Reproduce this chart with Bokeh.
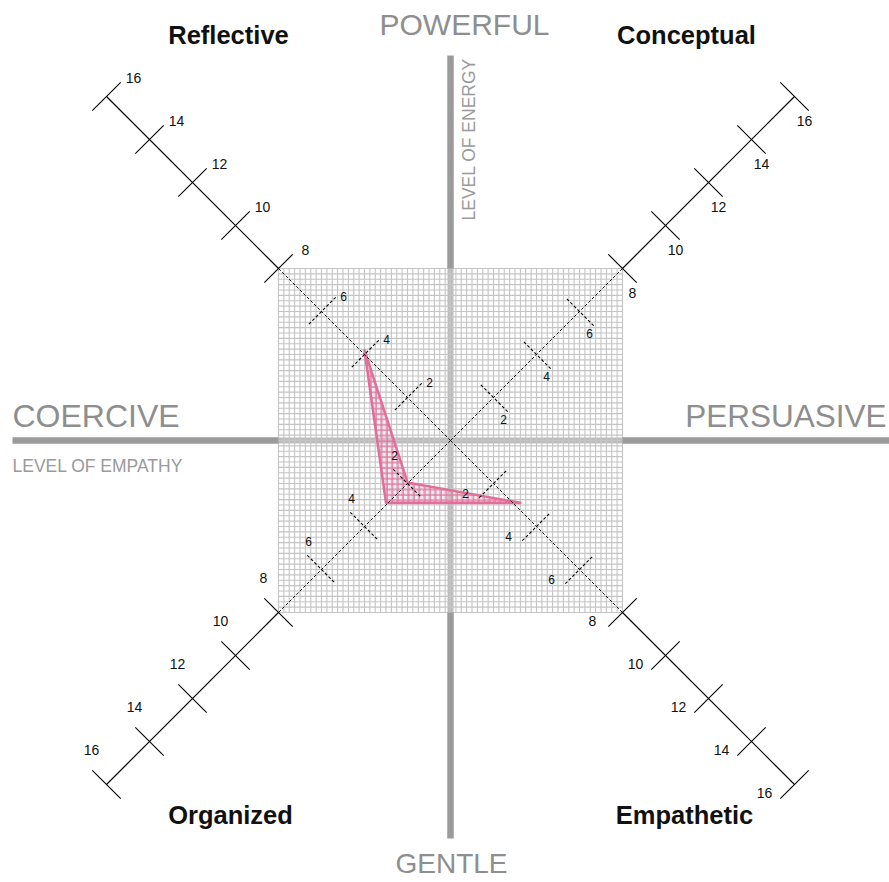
import numpy as np
from bokeh.plotting import figure
from bokeh.models import ColumnDataSource
from bokeh.core.properties import value
from bokeh.embed import file_html
from bokeh.resources import INLINE

# ---------------- data ----------------
axis_names = ["Reflective", "Conceptual", "Organized", "Empathetic"]
axis_sx = [-1, 1, -1, 1]          # diagonal direction of each axis
axis_sy = [1, 1, -1, -1]
inner_ticks = [2, 4, 6]
outer_ticks = [8, 10, 12, 14, 16]
inner_labels = ["2", "4", "6"]
outer_labels = ["8", "10", "12", "14", "16"]
box_half = 8
grid_step = 0.25
axis_max = 16

# profile polygon (units)
profile_x = [-4.0, -2.0, 3.25, -3.0]
profile_y = [4.2, -1.95, -2.9, -2.9]

pole_labels = ["POWERFUL", "GENTLE", "COERCIVE", "PERSUASIVE"]
sub_labels = ["LEVEL OF EMPATHY", "LEVEL OF ENERGY"]

# ---------------- layout ----------------
W, H = 889, 882
PX = 21.5                 # pixels per unit
cx, cy = 450, 440         # centre in figure pixels
x0, x1 = -cx / PX, (W - cx) / PX
y0, y1 = -(H - cy) / PX, cy / PX

p = figure(width=W, height=H, x_range=(x0, x1), y_range=(y0, y1),
           output_backend="svg", toolbar_location=None,
           x_axis_location=None, y_axis_location=None,
           min_border=0, min_border_left=0, min_border_right=0,
           min_border_top=0, min_border_bottom=0,
           outline_line_color=None, background_fill_color="white",
           border_fill_color="white")
p.xgrid.visible = False
p.ygrid.visible = False

def u(px):
    return px / PX

# centre band inside the box
p.segment(x0=[-box_half, 0], y0=[0, -box_half], x1=[box_half, 0], y1=[0, box_half],
          line_color="#bdbdbd", line_width=6)

# fine grid
g = np.arange(-box_half, box_half + 1e-9, grid_step)
p.segment(x0=g, y0=[-box_half] * len(g), x1=g, y1=[box_half] * len(g),
          line_color="#c4c4c4", line_width=1.1)
p.segment(x0=[-box_half] * len(g), y0=g, x1=[box_half] * len(g), y1=g,
          line_color="#c4c4c4", line_width=1.1)

# thick grey cross outside the box
v_top, v_bot = u(440 - 55), -u(838 - 440)
h_left, h_right = -u(450 - 12), u(889 - 450)
p.segment(x0=[0, 0, h_left, box_half], y0=[box_half, v_bot, 0, 0],
          x1=[0, 0, -box_half, h_right], y1=[v_top, -box_half, 0, 0],
          line_color="#9b9b9b", line_width=6.5)

# profile polygon
p.patch(profile_x, profile_y, fill_color="#f3b6cb", fill_alpha=0.25,
        hatch_pattern="+", hatch_color="#e3789f", hatch_scale=5.4,
        hatch_weight=1.3, line_color="#e0709a", line_width=2.6,
        line_join="round")

# diagonal axes
tick_half = 0.66
for sx, sy in zip(axis_sx, axis_sy):
    p.segment(x0=[0], y0=[0], x1=[sx * box_half], y1=[sy * box_half],
              line_color="black", line_width=1, line_dash="3 2")
    p.segment(x0=[sx * box_half], y0=[sy * box_half], x1=[sx * axis_max],
              y1=[sy * axis_max], line_color="black", line_width=1.2)
    for ticks, dash in ((inner_ticks, "3 2"), (outer_ticks, "solid")):
        tx = np.array([sx * t for t in ticks], dtype=float)
        ty = np.array([sy * t for t in ticks], dtype=float)
        px_, py_ = -sy * tick_half, sx * tick_half
        p.segment(x0=tx - px_, y0=ty - py_, x1=tx + px_, y1=ty + py_,
                  line_color="black", line_width=1.1, line_dash=dash)

# tick label offsets per axis (pixels, screen y downward)
outer_off = [(27, -19), (10, 24), (-15, -35), (-30, 8)]
inner_off = [(22, -15), (10, 22), (-13, -28), (-28, 10)]
lx, ly, lt, ls = [], [], [], []
for (sx, sy), oo, io in zip(zip(axis_sx, axis_sy), outer_off, inner_off):
    for t, lab in zip(outer_ticks, outer_labels):
        lx.append(sx * t + u(oo[0])); ly.append(sy * t - u(oo[1])); lt.append(lab); ls.append("14px")
    for t, lab in zip(inner_ticks, inner_labels):
        lx.append(sx * t + u(io[0])); ly.append(sy * t - u(io[1])); lt.append(lab); ls.append("12px")
src = ColumnDataSource(dict(x=lx, y=ly, text=lt, size=ls))
p.text(x="x", y="y", text="text", source=src, text_font=value("Liberation Sans"),
       text_font_size="size", text_color="#111111", text_align="center",
       text_baseline="middle")

# pole labels
grey = "#8e8e8e"
p.text(x=[u(464 - 450)], y=[u(440 - 24)], text=[pole_labels[0]],
       text_font=value("Liberation Sans"), text_font_size="30px",
       text_color=grey, text_align="center", text_baseline="middle")
p.text(x=[u(451 - 450)], y=[-u(863 - 440)], text=[pole_labels[1]],
       text_font=value("Liberation Sans"), text_font_size="28px",
       text_color=grey, text_align="center", text_baseline="middle")
p.text(x=[-u(450 - 12)], y=[u(440 - 415)], text=[pole_labels[2]],
       text_font=value("Liberation Sans"), text_font_size="32px",
       text_color=grey, text_align="left", text_baseline="middle")
p.text(x=[u(886 - 450)], y=[u(440 - 415)], text=[pole_labels[3]],
       text_font=value("Liberation Sans"), text_font_size="31.5px",
       text_color=grey, text_align="right", text_baseline="middle")

# sub labels
p.text(x=[-u(450 - 12)], y=[-u(465 - 440)], text=[sub_labels[0]],
       text_font=value("Liberation Sans"), text_font_size="17.5px",
       text_color="#9a9a9a", text_align="left", text_baseline="middle")
p.text(x=[u(468 - 450)], y=[u(440 - 220)], text=[sub_labels[1]],
       text_font=value("Liberation Sans"), text_font_size="17.5px",
       text_color="#9a9a9a", text_align="left", text_baseline="middle",
       angle=np.pi / 2)

# style names (corners)
name_x = [u(228 - 450), u(686 - 450), u(230 - 450), u(684 - 450)]
name_y = [u(440 - 34), u(440 - 34), -u(814 - 440), -u(814 - 440)]
p.text(x=name_x, y=name_y, text=axis_names, text_font=value("Liberation Sans"),
       text_font_size="25.5px", text_font_style="bold", text_color="#111111",
       text_align="center", text_baseline="middle")

open("out.html", "w").write(file_html(p, INLINE))
